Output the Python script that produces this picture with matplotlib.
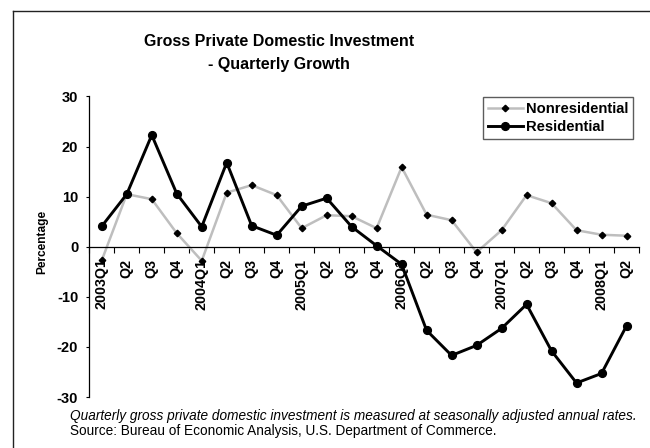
import matplotlib
matplotlib.use("Agg")
import matplotlib.pyplot as plt
from matplotlib.lines import Line2D

plt.rcParams['font.family'] = ['Liberation Sans', 'DejaVu Sans']

quarters = ["2003Q1", "Q2", "Q3", "Q4",
            "2004Q1", "Q2", "Q3", "Q4",
            "2005Q1", "Q2", "Q3", "Q4",
            "2006Q1", "Q2", "Q3", "Q4",
            "2007Q1", "Q2", "Q3", "Q4",
            "2008Q1", "Q2"]

nonresidential = [-2.7, 10.5, 9.5, 2.7,
                  -2.8, 10.8, 12.3, 10.3,
                  3.7, 6.3, 6.1, 3.7,
                  15.9, 6.4, 5.3, -1.1,
                  3.3, 10.3, 8.7, 3.3,
                  2.4, 2.2]

residential = [4.1, 10.5, 22.3, 10.6,
               4.0, 16.8, 4.2, 2.3,
               8.1, 9.7, 4.0, 0.2,
               -3.5, -16.7, -21.7, -19.7,
               -16.3, -11.5, -20.8, -27.2,
               -25.3, -15.8]

y_ticks = [-30, -20, -10, 0, 10, 20, 30]

W, H = 650, 448
fig = plt.figure(figsize=(W / 100, H / 100), dpi=100)

# chart-area frame (only its top and left edges fall inside the image)
fig.add_artist(Line2D([13 / W, 13 / W], [1 - 11 / H, 0], transform=fig.transFigure,
                      color='#222222', lw=1.0))
fig.add_artist(Line2D([13 / W, 1], [1 - 11 / H, 1 - 11 / H], transform=fig.transFigure,
                      color='#222222', lw=1.0))

left_px, right_px, top_px, bot_px = 89.3, 639.0, 96.5, 397.0
ax = fig.add_axes([left_px / W, 1 - bot_px / H,
                   (right_px - left_px) / W, (bot_px - top_px) / H])

x = list(range(len(quarters)))
ax.plot(x, nonresidential, color='#BEBEBE', lw=1.8, marker='D', ms=3.3,
        mfc='black', mec='black', label='Nonresidential', zorder=2)
ax.plot(x, residential, color='black', lw=2.1, marker='o', ms=5.6,
        mfc='black', mec='black', label='Residential', zorder=3)

ax.set_xlim(-0.5, len(quarters) - 0.5)
ax.set_ylim(-30, 30)

for s in ['top', 'right']:
    ax.spines[s].set_visible(False)
ax.spines['bottom'].set_position(('data', 0))
ax.spines['bottom'].set_linewidth(0.9)
ax.spines['left'].set_linewidth(0.9)

ax.set_yticks(y_ticks)
ax.set_yticklabels([str(v) for v in y_ticks], fontweight='bold', fontsize=10.5)
ax.tick_params(axis='y', direction='out', length=2.5, width=0.8, pad=5.5)

# boundary tick marks between quarters, labels centred on each quarter
ax.set_xticks([i - 0.5 for i in range(len(quarters) + 1)])
ax.set_xticklabels([])
ax.tick_params(axis='x', which='major', direction='out', length=4.3, width=0.8)
ax.set_xticks(x, minor=True)
ax.set_xticklabels(quarters, minor=True, rotation=90, fontweight='bold',
                   fontsize=10.3, va='top', ha='center')
ax.tick_params(axis='x', which='minor', length=0, pad=8.5)

ax.set_ylabel('Percentage', fontweight='bold', fontsize=8.6)
ax.yaxis.set_label_coords((48.5 - left_px) / (right_px - left_px), 0.515)

leg = ax.legend(loc='upper right', bbox_to_anchor=((632.7 - left_px) / (right_px - left_px),
                                                   1 - (97.3 - top_px) / (bot_px - top_px)),
                borderaxespad=0, frameon=True, fancybox=False, shadow=False,
                prop={'weight': 'bold', 'size': 10.6}, handlelength=2.4,
                handletextpad=0.2, borderpad=0.3, labelspacing=0.3)
leg.get_frame().set_edgecolor('#333333')
leg.get_frame().set_linewidth(1.0)

fig.text(279 / W, 1 - 41 / H, 'Gross Private Domestic Investment', ha='center',
         va='center', fontsize=11.5, fontweight='bold')
fig.text(279 / W, 1 - 65 / H, '- Quarterly Growth', ha='center',
         va='center', fontsize=11.5, fontweight='bold')

fig.text(70 / W, 1 - 416 / H,
         'Quarterly gross private domestic investment is measured at seasonally adjusted annual rates.',
         ha='left', va='center', fontsize=9.8, style='italic')
fig.text(70 / W, 1 - 431 / H,
         'Source: Bureau of Economic Analysis, U.S. Department of Commerce.',
         ha='left', va='center', fontsize=9.8)

fig.savefig('out.png', dpi=100)
